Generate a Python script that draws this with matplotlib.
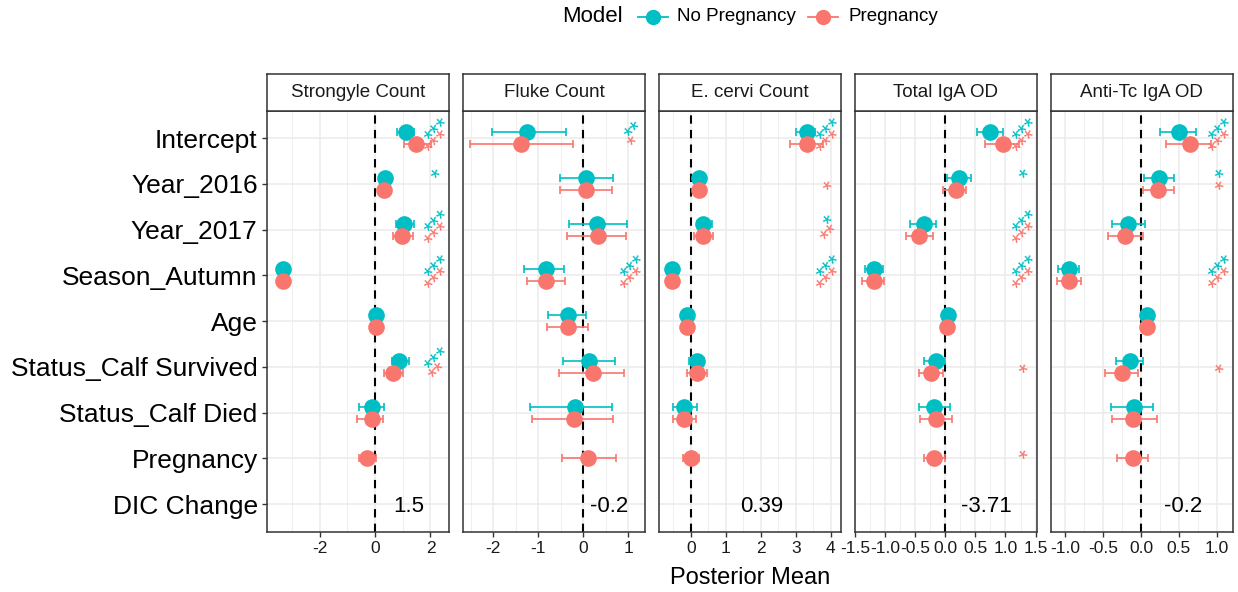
import numpy as np
import matplotlib
matplotlib.use("Agg")
import matplotlib.pyplot as plt
from matplotlib.lines import Line2D
from matplotlib.ticker import MultipleLocator, FormatStrFormatter
from matplotlib.transforms import blended_transform_factory

plt.rcParams['font.family'] = ['Liberation Sans', 'DejaVu Sans']
plt.rcParams['axes.unicode_minus'] = False

# ---------------------------------------------------------------- data
terms = ["Intercept", "Year_2016", "Year_2017", "Season_Autumn", "Age",
         "Status_Calf Survived", "Status_Calf Died", "Pregnancy", "DIC Change"]
responses = ["Strongyle Count", "Fluke Count", "E. cervi Count",
             "Total IgA OD", "Anti-Tc IgA OD"]
nan = np.nan

# model without the pregnancy term
nopreg_mean = {
    "Strongyle Count": [1.11, 0.36, 1.05, -3.34, 0.02, 0.88, -0.12, nan],
    "Fluke Count":     [-1.26, 0.06, 0.30, -0.84, -0.35, 0.13, -0.19, nan],
    "E. cervi Count":  [3.31, 0.24, 0.36, -0.52, -0.11, 0.17, -0.19, nan],
    "Total IgA OD":    [0.75, 0.23, -0.36, -1.19, 0.04, -0.16, -0.18, nan],
    "Anti-Tc IgA OD":  [0.50, 0.24, -0.17, -0.95, 0.08, -0.15, -0.09, nan],
}
nopreg_lower = {
    "Strongyle Count": [0.78, 0.20, 0.76, -3.52, -0.08, 0.60, -0.57, nan],
    "Fluke Count":     [-2.02, -0.52, -0.32, -1.31, -0.79, -0.46, -1.19, nan],
    "E. cervi Count":  [3.01, 0.14, 0.17, -0.62, -0.19, -0.04, -0.51, nan],
    "Total IgA OD":    [0.53, 0.03, -0.59, -1.34, -0.02, -0.35, -0.44, nan],
    "Anti-Tc IgA OD":  [0.25, 0.04, -0.38, -1.09, 0.03, -0.33, -0.39, nan],
}
nopreg_upper = {
    "Strongyle Count": [1.41, 0.52, 1.41, -3.16, 0.12, 1.24, 0.34, nan],
    "Fluke Count":     [-0.39, 0.67, 0.98, -0.42, 0.07, 0.70, 0.64, nan],
    "E. cervi Count":  [3.55, 0.34, 0.61, -0.42, -0.03, 0.39, 0.17, nan],
    "Total IgA OD":    [0.96, 0.42, -0.15, -1.04, 0.10, 0.00, 0.07, nan],
    "Anti-Tc IgA OD":  [0.72, 0.44, 0.05, -0.82, 0.13, 0.03, 0.16, nan],
}

# model including the pregnancy term
preg_mean = {
    "Strongyle Count": [1.47, 0.33, 0.99, -3.34, 0.02, 0.66, -0.12, -0.28],
    "Fluke Count":     [-1.39, 0.06, 0.32, -0.83, -0.33, 0.21, -0.21, 0.11],
    "E. cervi Count":  [3.31, 0.25, 0.34, -0.52, -0.11, 0.17, -0.19, 0.00],
    "Total IgA OD":    [0.96, 0.18, -0.43, -1.18, 0.02, -0.23, -0.15, -0.18],
    "Anti-Tc IgA OD":  [0.65, 0.23, -0.21, -0.95, 0.08, -0.25, -0.11, -0.11],
}
preg_lower = {
    "Strongyle Count": [1.05, 0.17, 0.66, -3.52, -0.08, 0.34, -0.66, -0.57],
    "Fluke Count":     [-2.51, -0.52, -0.37, -1.25, -0.80, -0.53, -1.13, -0.48],
    "E. cervi Count":  [2.84, 0.15, 0.10, -0.62, -0.19, -0.11, -0.51, -0.23],
    "Total IgA OD":    [0.66, -0.03, -0.65, -1.38, -0.04, -0.43, -0.42, -0.35],
    "Anti-Tc IgA OD":  [0.33, 0.02, -0.43, -1.11, 0.00, -0.47, -0.38, -0.31],
}
preg_upper = {
    "Strongyle Count": [2.01, 0.49, 1.36, -3.16, 0.12, 1.00, 0.28, 0.04],
    "Fluke Count":     [-0.24, 0.63, 0.95, -0.41, 0.10, 0.90, 0.65, 0.72],
    "E. cervi Count":  [3.77, 0.35, 0.63, -0.42, -0.03, 0.48, 0.14, 0.24],
    "Total IgA OD":    [1.22, 0.35, -0.21, -1.02, 0.08, -0.03, 0.11, 0.00],
    "Anti-Tc IgA OD":  [0.92, 0.44, 0.02, -0.79, 0.17, -0.04, 0.21, 0.09],
}

# significance stars
nopreg_stars = {
    "Strongyle Count": ["***", "*", "***", "***", "", "***", "", ""],
    "Fluke Count":     ["**", "", "", "***", "", "", "", ""],
    "E. cervi Count":  ["***", "", "*", "***", "", "", "", ""],
    "Total IgA OD":    ["***", "*", "***", "***", "", "", "", ""],
    "Anti-Tc IgA OD":  ["***", "*", "", "***", "", "", "", ""],
}
preg_stars = {
    "Strongyle Count": ["***", "", "***", "***", "", "**", "", ""],
    "Fluke Count":     ["*", "", "", "***", "", "", "", ""],
    "E. cervi Count":  ["***", "*", "**", "***", "", "", "", ""],
    "Total IgA OD":    ["***", "", "***", "***", "", "*", "", "*"],
    "Anti-Tc IgA OD":  ["***", "*", "", "***", "", "*", "", ""],
}

dic_change = ["1.5", "-0.2", "0.39", "-3.71", "-0.2"]

# ---------------------------------------------------------------- layout
col_nopreg = "#00BFC4"
col_preg = "#F8766D"
ink = "#333333"

W, H = 1238, 592
fig = plt.figure(figsize=(W / 100, H / 100), dpi=100)

panel_w, gap = 182.4, 13.6
panel_top, panel_bot, strip_top = 110.7, 531.7, 74.0
x_limits = [(-3.914, 2.674), (-2.68, 1.373), (-0.914, 4.297),
            (-1.505, 1.525), (-1.188, 1.212)]
major_step = [2, 1, 1, 0.5, 0.5]
tick_fmt = ["%d", "%d", "%d", "%.1f", "%.1f"]
dic_x = [1.23, 0.57, 2.03, 0.69, 0.55]
dodge = 0.13

n_rows = len(terms)
row_y = np.arange(n_rows)[::-1]  # first term at the top

for k, resp in enumerate(responses):
    left = 266.7 + k * (panel_w + gap)
    ax = fig.add_axes([left / W, 1 - panel_bot / H, panel_w / W,
                       (panel_bot - panel_top) / H])
    strip = fig.add_axes([left / W, 1 - panel_top / H, panel_w / W,
                          (panel_top - strip_top) / H])

    # strip label
    strip.set_xticks([])
    strip.set_yticks([])
    strip.set_facecolor("white")
    for sp in strip.spines.values():
        sp.set_color(ink)
        sp.set_linewidth(1.1)
    strip.text(0.5, 0.5, resp, ha="center", va="center", fontsize=13.5,
               color="#1A1A1A", transform=strip.transAxes)

    ax.set_xlim(*x_limits[k])
    ax.set_ylim(-0.6, n_rows - 1 + 0.6)
    ax.xaxis.set_major_locator(MultipleLocator(major_step[k]))
    ax.xaxis.set_minor_locator(MultipleLocator(major_step[k] / 2))
    ax.xaxis.set_major_formatter(FormatStrFormatter(tick_fmt[k]))
    ax.set_yticks(row_y)
    ax.grid(which="major", color="#EBEBEB", lw=1.1, zorder=0)
    ax.grid(which="minor", axis="x", color="#EBEBEB", lw=0.55, zorder=0)
    ax.set_axisbelow(True)
    for sp in ax.spines.values():
        sp.set_color(ink)
        sp.set_linewidth(1.1)
    ax.tick_params(axis="x", which="major", length=3.5, width=1.0,
                   color=ink, labelsize=12.5, labelcolor="#1A1A1A", pad=3)
    ax.tick_params(axis="x", which="minor", length=0)
    if k == 0:
        ax.set_yticklabels(terms)
        ax.tick_params(axis="y", length=3.5, width=1.0, color=ink,
                       labelsize=19, labelcolor="black", pad=3)
    else:
        ax.tick_params(axis="y", length=0, labelleft=False)

    ax.axvline(0, color="black", lw=1.5, ls=(0, (4, 3)), zorder=1.5)

    m_np = np.array(nopreg_mean[resp])
    lo_np = np.array(nopreg_lower[resp])
    hi_np = np.array(nopreg_upper[resp])
    m_p = np.array(preg_mean[resp])
    lo_p = np.array(preg_lower[resp])
    hi_p = np.array(preg_upper[resp])

    base = row_y[:len(m_np)].astype(float)
    has_np = ~np.isnan(m_np)
    y_np = base + dodge
    y_p = np.where(has_np, base - dodge, base)

    groups = [(m_np, lo_np, hi_np, y_np, col_nopreg),
              (m_p, lo_p, hi_p, y_p, col_preg)]
    # intervals first, then the points on top
    for m, lo, hi, yy, c in groups:
        ok = ~np.isnan(m)
        ax.errorbar(m[ok], yy[ok], xerr=[m[ok] - lo[ok], hi[ok] - m[ok]],
                    fmt="none", ecolor=c, elinewidth=1.2, capsize=3.2,
                    capthick=1.2, zorder=2)
    for m, lo, hi, yy, c in groups:
        ok = ~np.isnan(m)
        ax.plot(m[ok], yy[ok], "o", ms=12, color=c, mec="none", zorder=3)

    # significance stars near the right edge of the panel
    trans = blended_transform_factory(ax.transAxes, ax.transData)
    for stars, yy, c in [(nopreg_stars[resp], y_np, col_nopreg),
                         (preg_stars[resp], y_p, col_preg)]:
        for s, yv in zip(stars, yy):
            if s:
                ax.text(0.948, yv, s, transform=trans, rotation=45,
                        rotation_mode="anchor", ha="center", va="center",
                        fontsize=17, color=c, zorder=4)

    # DIC change in the bottom row
    ax.text(dic_x[k], row_y[-1], dic_change[k], ha="center",
            va="center_baseline", fontsize=16, color="black", zorder=4)

# axis title
fig.text(749.7 / W, 1 - 578 / H, "Posterior Mean", ha="center", va="center",
         fontsize=17, color="black")

# legend across the top
ly = 1 - 16.7 / H
fig.text(561.7 / W, ly, "Model", ha="left", va="center", fontsize=16)
for x0, x1, xc, xt, c, lab in [(638.3, 668.3, 653.3, 676.7, col_nopreg, "No Pregnancy"),
                               (808.3, 838.3, 823.3, 848.3, col_preg, "Pregnancy")]:
    fig.add_artist(Line2D([x0 / W, x1 / W], [ly, ly], transform=fig.transFigure,
                          color=c, lw=1.3))
    fig.add_artist(Line2D([xc / W], [ly], transform=fig.transFigure, marker="o",
                          ms=11, color=c, mec="none"))
    fig.text(xt / W, ly, lab, ha="left", va="center", fontsize=13.5)

fig.savefig("out.png", dpi=100, facecolor="white")
